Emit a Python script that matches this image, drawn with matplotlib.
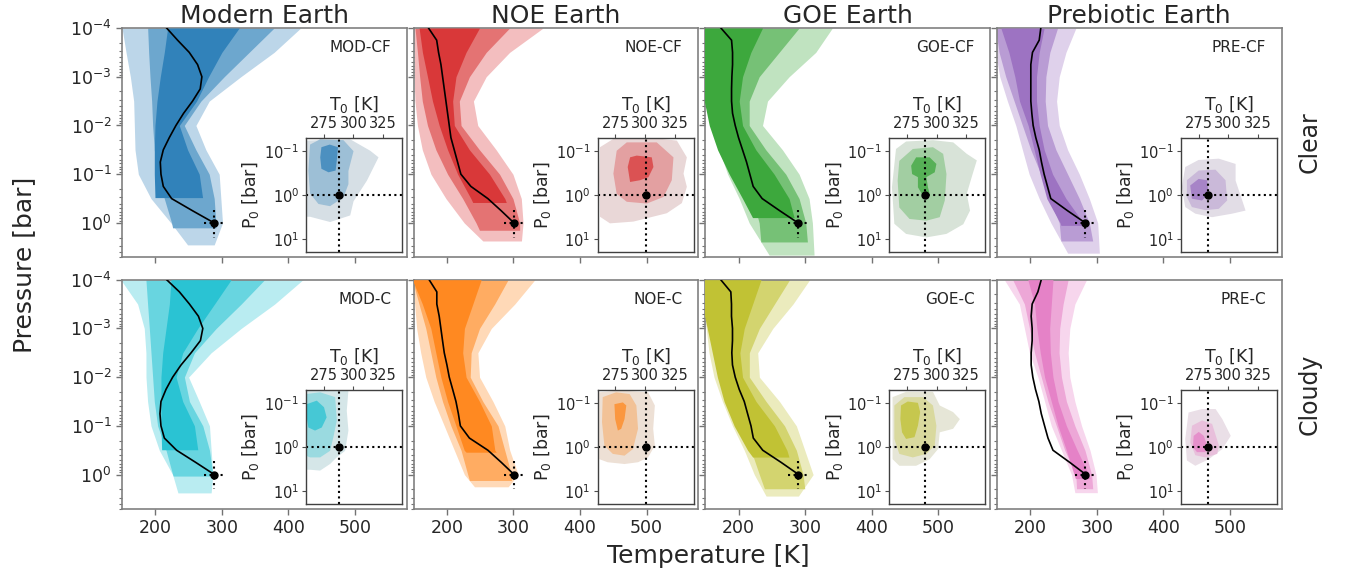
import numpy as np
import matplotlib
matplotlib.use('Agg')
import matplotlib.pyplot as plt
import matplotlib.colors as mcolors
from matplotlib.ticker import NullLocator

# pressure levels (log10 bar) at which the band edges were read
logp_grid = [-4, -3.5, -3, -2.5, -2, -1.5, -1, -0.5, 0]
# pressure levels (log10 bar) of the median profiles
logp_med = [-4, -3.75, -3.5, -3.25, -3, -2.75, -2.5, -2.25, -2, -1.75,
            -1.5, -1.25, -1, -0.75, -0.5, -0.25, 0]

col_titles = ['Modern Earth', 'NOE Earth', 'GOE Earth', 'Prebiotic Earth']
row_titles = ['Clear', 'Cloudy']
names = [['MOD-CF', 'NOE-CF', 'GOE-CF', 'PRE-CF'],
         ['MOD-C', 'NOE-C', 'GOE-C', 'PRE-C']]
colors = [['tab:blue', 'tab:red', 'tab:green', 'tab:purple'],
          ['tab:cyan', 'tab:orange', 'tab:olive', 'tab:pink']]

# surface temperature of each scenario [K] (true values, P0 = 1 bar)
t0 = [[288, 301, 290, 283],
      [288, 301, 290, 283]]

# ---- retrieved P-T profiles: outer / middle / inner credible band ----
# bottom of each band (log10 bar), left and right edge temperatures [K]
mod_cf_bot = [0.45, 0.1, -0.52]
mod_cf_lo = [[150, 156, 162.5, 167.5, 168.5, 169.5, 174.5, 193.5, 223.5, 248.5],
             [188.5, 190, 192, 194.5, 196, 198.5, 203.5, 213.5, 224.5, 226],
             [218.5, 213.5, 207.5, 202.5, 199.5, 198.5, 198.5, 199.5]]
mod_cf_hi = [[418.5, 378.5, 328.5, 281, 261, 276, 296, 298.5, 301, 288.5],
             [378.5, 341, 303.5, 268.5, 243.5, 261, 281, 288.5, 291, 291],
             [326, 300, 280, 262, 236, 248.5, 266, 271]]
mod_cf_med = [217, 233.5, 251, 263.5, 270, 267.5, 256, 242.5, 231, 221,
              212, 207.5, 208.5, 212, 224.5, 256, 288.5]

noe_cf_bot = [0.37, 0.15, -0.42]
noe_cf_lo = [[148, 150.6, 150.6, 152, 155.7, 163, 176, 198.5, 226, 254],
             [152, 155.7, 159, 163, 170.8, 183.4, 201, 223.7, 243.8, 248.9],
             [158.2, 163.2, 170.8, 178.3, 188.4, 201, 216.1, 236, 238.8]]
noe_cf_hi = [[344.6, 294.2, 259, 239.8, 246.3, 274, 299.2, 311.8, 314.4, 312],
             [294.2, 259, 233.8, 218.6, 221.2, 248.9, 279.1, 299.2, 309.3, 309.3],
             [248.9, 228.7, 213.6, 208.6, 211.1, 233.8, 264, 287, 289.2]]
noe_cf_med = [172.3, 184.6, 187.4, 191, 193.5, 196, 198.5, 201, 203.5, 206,
              211, 216, 221, 236, 261.5, 281.6, 300.8]

goe_cf_bot = [0.66, 0.39, -0.11]
goe_cf_lo = [[140, 140, 142, 150, 161, 171, 183.5, 201, 216, 246],
             [140, 140, 151, 163.5, 176, 188.5, 206, 221, 231, 233.5],
             [140, 140, 145, 148.5, 156, 168.5, 186, 206, 221]]
goe_cf_hi = [[341, 316, 276, 243.5, 236, 266, 291, 306, 311, 313.5],
             [291, 261, 231, 216, 216, 241, 271, 291, 301, 303.5],
             [236, 218.5, 206, 201, 206, 226, 253.5, 276, 283.5]]
goe_cf_med = [173.5, 189.5, 191, 191, 190, 189.5, 189.5, 191, 195, 200,
              206, 212, 217, 222, 235.5, 262, 289.5]

pre_cf_bot = [0.62, 0.37, 0.05]
pre_cf_lo = [[148, 148, 154.3, 165.8, 178.4, 188.4, 198.5, 213.6, 231.2, 256.3],
             [148, 153.3, 163.3, 175.9, 188.4, 201, 216.1, 228.6, 243.7, 246.2],
             [156, 168, 177, 184, 197, 206, 215, 225, 245, 246.2]]
pre_cf_hi = [[268.8, 253.8, 243.7, 239.7, 243.7, 256.3, 273.9, 288.9, 301.5, 304],
             [241.2, 229.6, 223.6, 222.6, 226.1, 238.7, 256.3, 273.9, 288.9, 294],
             [221, 213.6, 209.5, 209.5, 213.6, 221.1, 233.7, 253.8, 280, 283]]
pre_cf_med = [216, 213.6, 203.5, 201, 201, 201, 201, 202.5, 204.5, 208.5,
              213.6, 217, 221, 226, 231, 256.3, 283]

mod_c_bot = [0.375, 0.03, -0.51]
mod_c_lo = [[148, 173.4, 183.4, 185.9, 186, 188.4, 193.5, 206, 226, 234],
            [185.9, 188.4, 191, 193.5, 196, 198.5, 203.5, 216.1, 226.1, 227],
            [223.6, 221.1, 216.1, 211.1, 208.5, 208.5, 208.5, 209.5]]
mod_c_hi = [[422, 379.4, 329.1, 283.9, 250, 266, 281.4, 283.9, 286.5, 283.9],
            [364.3, 329.1, 291.5, 258.8, 243.7, 251.3, 271.4, 281.4, 286.4, 286.4],
            [314, 289, 263.8, 241.2, 231.2, 241.2, 258.8, 263.8]]
mod_c_med = [217, 236.2, 251.3, 264.8, 271.4, 267.8, 253.8, 238.7, 226.1, 216.1,
             208.5, 207, 208.5, 213.6, 232, 260.8, 288.9]

noe_c_bot = [0.25, 0.12, -0.46]
noe_c_lo = [[148, 151.5, 154.5, 160.6, 168.2, 180.8, 196, 211.1, 226.3, 241.4],
            [148, 158, 168.2, 175.8, 183.3, 193.4, 206, 221.2, 231.3, 233.8],
            [148, 163.1, 175.8, 183.3, 190.9, 201, 213.6, 226, 228.8]]
noe_c_hi = [[332.3, 302, 266.7, 246.5, 249, 269.2, 286.9, 294.4, 307, 292],
            [292, 271.7, 249, 236.4, 235, 254, 276.8, 286.9, 297, 297],
            [251.5, 238.9, 226.3, 223.7, 228.8, 249, 266.7, 272, 274.2]]
noe_c_med = [173.2, 184.8, 184.8, 188.4, 190.9, 193.4, 196, 200, 203.5, 208.6,
             213.6, 217.2, 220.2, 233.8, 261.6, 281.8, 301]

goe_c_bot = [0.44, 0.29, -0.36]
goe_c_lo = [[145, 145, 151.5, 155.6, 163.1, 175.8, 190.9, 208.6, 223.7, 241.4],
            [145, 145, 155.6, 163.1, 170.7, 183.3, 201, 218.7, 231.3, 238.9],
            [145, 145, 153, 160.6, 168.2, 178.3, 193.4, 213.6, 221.2]]
goe_c_hi = [[307, 281.8, 251.5, 228.8, 231.3, 261.6, 286.9, 299.5, 312.1, 290],
            [276.8, 254, 231.3, 216.2, 216.2, 241.4, 269.2, 286.9, 297, 299.5],
            [233.8, 221.2, 208.6, 202, 206, 226.3, 254, 272.7, 275.8]]
goe_c_med = [173.2, 188.4, 189.4, 189.4, 190.9, 190.9, 189.9, 190.9, 195, 201,
             208.6, 213.6, 218.7, 222.2, 236.4, 264.1, 290.4]

pre_c_bot = [0.37, 0.29, 0.08]
pre_c_lo = [[161.1, 183.8, 191.4, 199, 211.6, 221.7, 231.8, 247, 262.1, 267.2],
            [173.7, 191.4, 199, 206.6, 216.7, 226.8, 239.4, 252, 268.7, 269.7],
            [196.5, 206.6, 210.1, 215.2, 221.7, 231.8, 241.9, 254.5, 266, 268]]
pre_c_hi = [[284.8, 267.2, 259.6, 257.1, 259.6, 267.2, 277.3, 289.9, 299, 301],
            [257.1, 249.5, 244.4, 243.4, 247, 254.5, 267.2, 282.3, 292.4, 294],
            [234.3, 231.8, 229.3, 230.3, 234.3, 241.9, 254.5, 270.7, 288, 290]]
pre_c_med = [216.7, 211.6, 203, 201.5, 203, 203, 201.5, 201.5, 204, 208,
             213.1, 216.7, 221.7, 226.8, 234.3, 259.6, 283.8]

# ---- inset: T0 / log10(P0) posterior contours (outer, middle, inner) ----
mod_cf_in_t = [[260, 297.3, 314.2, 321.2, 311.4, 300.1, 297.3, 280.4, 263.4, 260],
               [263.4, 271.9, 291.6, 300.1, 295.8, 295.8, 291.6, 280.3, 270.5, 263.4, 262],
               [273, 280, 287, 286, 285, 279, 273, 272]]
mod_cf_in_p = [[-1.24, -1.27, -1.01, -0.86, -0.33, 0.14, 0.46, 0.61, 0.49, 0.49],
               [-1.15, -1.27, -1.25, -1.0, -0.55, -0.25, 0.05, 0.25, 0.2, -0.04, -0.56],
               [-1.09, -1.15, -1.09, -0.79, -0.56, -0.52, -0.6, -0.86]]

noe_cf_in_t = [[262, 273.3, 307.1, 326.9, 335.3, 332.5, 335.3, 331.1, 318.4, 290.2, 270.4, 262, 261.4],
               [276.1, 284.6, 309.9, 324, 322.6, 315.6, 301.5, 284.6, 276.1, 273.3],
               [287.4, 293, 305.7, 307.1, 302.9, 295.8, 287.4, 285.4]]
noe_cf_in_p = [[-1.09, -1.28, -1.3, -1.24, -0.86, -0.49, -0.19, 0.18, 0.41, 0.6, 0.64, 0.49, -0.34],
               [-1.01, -1.2, -1.2, -0.86, -0.34, 0.04, 0.19, 0.15, -0.03, -0.49],
               [-0.86, -0.9, -0.86, -0.64, -0.41, -0.34, -0.3, -0.64]]

goe_cf_in_t = [[265.7, 274.2, 296.9, 314, 325.4, 333.9, 329.6, 325.4, 328.2, 322.5, 308.3, 291.3, 274.2, 264.3, 262.3],
               [268.5, 279.9, 296.9, 305.5, 308.3, 306.9, 302.6, 291.3, 277.1, 268.5, 267.1],
               [278.5, 282.7, 294.1, 299.8, 298.4, 291.3, 292.7, 294.1, 288.4, 284.2, 284.2, 279.3]]
goe_cf_in_p = [[-1.05, -1.22, -1.25, -1.2, -0.94, -0.79, -0.41, -0.03, 0.35, 0.66, 0.88, 0.96, 0.88, 0.65, -0.18],
               [-0.78, -1.05, -1.09, -0.94, -0.48, 0.12, 0.5, 0.58, 0.54, 0.28, -0.33],
               [-0.67, -0.86, -0.86, -0.71, -0.52, -0.41, -0.18, -0.03, 0.01, -0.18, -0.41, -0.48]]

pre_cf_in_t = [[263.7, 274.9, 292, 306.2, 306.2, 311.8, 314.6, 303.3, 286.3, 272.2, 263.7, 260.8],
               [265.1, 275, 289.2, 297.7, 299.1, 292, 280.7, 269.3, 265.1],
               [267.9, 275, 282.1, 283.5, 277.8, 269.3]]
pre_cf_in_p = [[-0.64, -0.8, -0.83, -0.71, -0.33, 0.12, 0.35, 0.42, 0.5, 0.42, 0.27, -0.18],
               [-0.34, -0.56, -0.58, -0.34, 0.12, 0.31, 0.34, 0.27, 0.04],
               [-0.22, -0.37, -0.34, -0.03, 0.12, 0.08]]

mod_c_in_t = [[260, 283.1, 295.8, 294.4, 295.8, 293, 285.9, 280.3, 271.9, 263.4, 260],
              [260, 271.9, 284.6, 286, 283.1, 280.3, 271.9, 263.4, 260],
              [260.6, 269.1, 275.2, 277.4, 273.3, 267.6, 262, 260.6]]
mod_c_in_p = [[-1.28, -1.29, -1.28, -0.82, -0.37, 0.09, 0.24, 0.39, 0.54, 0.52, 0.52],
              [-1.2, -1.24, -1.13, -0.6, -0.22, 0.09, 0.24, 0.24, 0.2],
              [-0.97, -1.05, -0.9, -0.67, -0.44, -0.37, -0.44, -0.67]]

noe_c_in_t = [[261.4, 279.9, 302.6, 308.3, 306.9, 308.3, 302.6, 294.1, 282.7, 268.5, 261.4],
              [264.3, 275.6, 287, 292.7, 294.1, 289.8, 282.7, 272.8, 265.7, 263.7],
              [274.2, 281.3, 284.2, 282.7, 279.9, 277.1, 274.8]]
noe_c_in_p = [[-1.24, -1.28, -1.24, -0.94, -0.41, -0.03, 0.24, 0.35, 0.39, 0.35, 0.28],
              [-1.13, -1.24, -1.2, -0.94, -0.41, 0.05, 0.2, 0.16, -0.03, -0.56],
              [-0.97, -1.01, -0.94, -0.63, -0.41, -0.37, -0.63]]

goe_c_in_t = [[262.8, 274.2, 296.9, 302.6, 313.9, 319.6, 313.9, 302.6, 301.2, 294.1, 282.7, 268.5, 262.8],
              [264.3, 272.8, 288.4, 296.9, 299.8, 298.4, 291.3, 279.9, 268.5, 264.3],
              [269.9, 275.6, 284.2, 286.1, 284.2, 281.3, 274.2, 270.8, 269.4]]
goe_c_in_p = [[-1.13, -1.25, -1.25, -0.94, -0.79, -0.63, -0.41, -0.33, 0.05, 0.28, 0.43, 0.43, 0.28],
              [-0.94, -1.13, -1.13, -0.94, -0.48, -0.03, 0.16, 0.24, 0.16, -0.18],
              [-0.94, -1.03, -1.0, -0.79, -0.48, -0.22, -0.18, -0.33, -0.63]]

pre_c_in_t = [[266.5, 277.9, 289.3, 295, 302.1, 295, 283.6, 272.2, 265.1, 263.7],
              [269.4, 277.9, 286.4, 292.1, 290.7, 280.7, 272.2, 268],
              [270.8, 275.1, 279.3, 282.2, 280.7, 273.6, 270.2]]
pre_c_in_p = [[-0.78, -0.86, -0.86, -0.63, -0.25, 0.05, 0.28, 0.43, 0.31, -0.18],
              [-0.48, -0.6, -0.52, -0.03, 0.16, 0.24, 0.19, -0.1],
              [-0.25, -0.34, -0.25, -0.03, 0.12, 0.12, 0.01]]

profiles = [[(mod_cf_bot, mod_cf_lo, mod_cf_hi, mod_cf_med),
             (noe_cf_bot, noe_cf_lo, noe_cf_hi, noe_cf_med),
             (goe_cf_bot, goe_cf_lo, goe_cf_hi, goe_cf_med),
             (pre_cf_bot, pre_cf_lo, pre_cf_hi, pre_cf_med)],
            [(mod_c_bot, mod_c_lo, mod_c_hi, mod_c_med),
             (noe_c_bot, noe_c_lo, noe_c_hi, noe_c_med),
             (goe_c_bot, goe_c_lo, goe_c_hi, goe_c_med),
             (pre_c_bot, pre_c_lo, pre_c_hi, pre_c_med)]]
insets = [[(mod_cf_in_t, mod_cf_in_p), (noe_cf_in_t, noe_cf_in_p),
           (goe_cf_in_t, goe_cf_in_p), (pre_cf_in_t, pre_cf_in_p)],
          [(mod_c_in_t, mod_c_in_p), (noe_c_in_t, noe_c_in_p),
           (goe_c_in_t, goe_c_in_p), (pre_c_in_t, pre_c_in_p)]]


def tint(c, a, base=(1.0, 1.0, 1.0)):
    r = np.array(mcolors.to_rgb(c))
    b = np.array(base)
    return tuple(b + a * (r - b))


band_alpha = [0.3, 0.65, 0.92]
inset_alpha = [0.1, 0.38, 0.78]
inset_base = (0.92, 0.92, 0.92)

plt.rcParams['font.family'] = 'DejaVu Sans'
plt.rcParams['text.color'] = '0.15'
plt.rcParams['axes.labelcolor'] = '0.15'

fig, axes = plt.subplots(2, 4, figsize=(13.47, 5.74), dpi=100,
                         sharex=True, sharey=True)
fig.subplots_adjust(left=0.0906, right=0.9515, bottom=0.1138, top=0.9512,
                    wspace=0.024, hspace=0.099)

for i in range(2):
    for j in range(4):
        ax = axes[i, j]
        c = colors[i][j]
        bot, lo, hi, med = profiles[i][j]
        for k in range(3):
            lev = [g for g in logp_grid if g < bot[k]] + [bot[k]]
            p = 10.0 ** np.array(lev)
            ax.fill_betweenx(p, lo[k], hi[k], color=tint(c, band_alpha[k]),
                             lw=0, zorder=1 + k)
        ax.plot(med, 10.0 ** np.array(logp_med), color='k', lw=1.2, zorder=5)
        tt = t0[i][j]
        ax.plot([tt - 15, tt + 15], [1, 1], 'k:', lw=1.5, zorder=6)
        ax.plot([tt, tt], [0.53, 2.0], 'k:', lw=1.5, zorder=6)
        ax.plot(tt, 1, 'ko', ms=5, zorder=7)

        ax.set_yscale('log')
        ax.set_ylim(5.0, 1e-4)
        ax.set_xlim(150, 578)
        ax.set_xticks([200, 300, 400, 500])
        ax.set_yticks([1e-4, 1e-3, 1e-2, 1e-1, 1])
        ax.tick_params(which='both', direction='out', color='0.45',
                       labelcolor='0.15', labelsize=12.5)
        ax.tick_params(which='major', length=4, width=1)
        ax.tick_params(which='minor', length=2, width=0.8)
        for s in ax.spines.values():
            s.set_color('0.5')
            s.set_linewidth(1.2)
        ax.text(0.945, 0.915, names[i][j], transform=ax.transAxes,
                ha='right', va='center', fontsize=11)

        # inset with the surface temperature / pressure posterior
        axin = ax.inset_axes([0.646, 0.02, 0.337, 0.5])
        it, ip = insets[i][j]
        for k in range(3):
            axin.fill(it[k], 10.0 ** np.array(ip[k]),
                      color=tint(c, inset_alpha[k], inset_base), lw=0)
        axin.axvline(tt, color='k', ls=':', lw=1.5)
        axin.axhline(1, color='k', ls=':', lw=1.5)
        axin.plot(tt, 1, 'ko', ms=5)
        axin.set_yscale('log')
        axin.set_xlim(260, 341)
        axin.set_ylim(20, 0.05)
        axin.set_xticks([275, 300, 325])
        axin.set_yticks([0.1, 1, 10])
        axin.yaxis.set_minor_locator(NullLocator())
        axin.xaxis.tick_top()
        axin.xaxis.set_label_position('top')
        axin.tick_params(direction='out', length=3, color='0.3',
                         labelcolor='0.15', labelsize=10.5, pad=2)
        axin.set_xlabel('T$_0$ [K]', fontsize=12.5, labelpad=4)
        axin.set_ylabel('P$_0$ [bar]', fontsize=12.5, labelpad=2)
        for s in axin.spines.values():
            s.set_color('0.25')
            s.set_linewidth(1.0)

for j in range(4):
    axes[0, j].set_title(col_titles[j], fontsize=18, pad=3)

fig.text(0.9725, 0.7526, row_titles[0], rotation=90, ha='center',
         va='center', fontsize=17)
fig.text(0.9725, 0.3136, row_titles[1], rotation=90, ha='center',
         va='center', fontsize=17)
fig.text(0.018, 0.539, 'Pressure [bar]', rotation=90, ha='center',
         va='center', fontsize=18)
fig.text(0.5256, 0.031, 'Temperature [K]', ha='center', va='center',
         fontsize=18)

fig.savefig('out.png', dpi=100)
